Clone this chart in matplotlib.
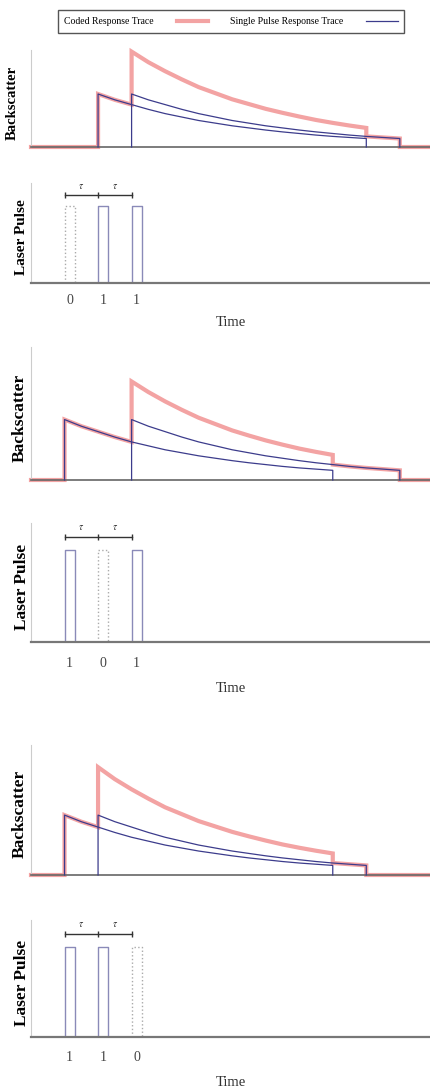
import numpy as np
import matplotlib
matplotlib.use("Agg")
import matplotlib.pyplot as plt
from matplotlib.lines import Line2D

plt.rcParams['font.family'] = ['Liberation Serif', 'DejaVu Serif']
plt.rcParams['mathtext.fontset'] = 'stix'

W, H = 431, 1091

# pulse codes for the three cases, pulses at t = 0, tau, 2 tau
pulse_times = [0, 1, 2]
codes = [[0, 1, 1], [1, 0, 1], [1, 1, 0]]
code_labels = [["0", "1", "1"], ["1", "0", "1"], ["1", "1", "0"]]

# single pulse response (height 1 at onset), every half tau
resp_offset = np.arange(0, 8.5, 0.5)
resp_value = [1.00, 0.89, 0.80, 0.71, 0.63, 0.565, 0.50, 0.45, 0.40,
              0.36, 0.32, 0.285, 0.255, 0.225, 0.20, 0.18, 0.16]
resp_len = resp_offset[-1]
pulse_w = 0.3

red = '#f08c8c'
blue = '#3c3c8c'
pulse_col = '#8a8ab8'

fig = plt.figure(figsize=(W / 100, H / 100), dpi=100)


def px_axes(top, bottom, left=31, right=430):
    return fig.add_axes([left / W, 1 - bottom / H, (right - left) / W, (bottom - top) / H])


def resp_at(t, t0, side):
    d = t - t0
    if side == 'left':
        inside = 0 < d <= resp_len
    else:
        inside = 0 <= d < resp_len
    return np.interp(d, resp_offset, resp_value) if inside else 0.0


def style(ax, ymax, xmin=-1.0, xmax=10.9):
    ax.set_xlim(xmin, xmax)
    ax.set_ylim(0, ymax)
    for s in ['top', 'right']:
        ax.spines[s].set_visible(False)
    ax.spines['left'].set_color('#cccccc')
    ax.spines['left'].set_linewidth(0.8)
    ax.spines['bottom'].set_color('#666666')
    ax.spines['bottom'].set_linewidth(1.2)
    ax.set_yticks([])


# pixel layout: (backscatter top, bottom, ymax, label size), (pulse top, bottom, label size), tick y, time y
layout = [
    ((50, 147, 1.83, 10.5), (183, 283, 11), 300, 323),
    ((347, 480, 2.2, 12.5), (523, 642, 12.5), 663, 688),
    ((745, 875, 2.17, 12.5), (920, 1037, 12.5), 1057, 1083),
]

for k in range(3):
    (bt, bb, bmax, bfs), (pt, pb, pfs), tick_y, time_y = layout[k]
    on = [t for t, c in zip(pulse_times, codes[k]) if c == 1]

    # --- backscatter panel ---
    ax = px_axes(bt, bb)
    grid = sorted(set(np.concatenate([t0 + resp_offset for t0 in on])))
    xs, ys = [-1.0], [0.0]
    for g in grid:
        xs += [g, g]
        ys += [sum(resp_at(g, t0, 'left') for t0 in on),
               sum(resp_at(g, t0, 'right') for t0 in on)]
    xs.append(10.9)
    ys.append(0.0)
    ax.plot(xs, ys, color=red, lw=3, alpha=0.8, solid_joinstyle='miter', clip_on=False, zorder=2)
    for t0 in on:
        sx = [t0] + list(t0 + resp_offset) + [t0 + resp_len]
        sy = [0.0] + resp_value + [0.0]
        ax.plot(sx, sy, color=blue, lw=0.9, clip_on=False, zorder=3)
    style(ax, bmax)
    ax.set_xticks([])
    fig.text((12 if k == 0 else 20) / W, 1 - ((bt + bb) / 2 + 4) / H, 'Backscatter',
             rotation=90, ha='center', va='center', fontsize=bfs, fontweight='bold')

    # --- laser pulse panel ---
    ax = px_axes(pt, pb)
    for t, c in zip(pulse_times, codes[k]):
        if c == 1:
            ax.plot([t, t, t + pulse_w, t + pulse_w], [0, 1, 1, 0], color=pulse_col, lw=1)
        else:
            ax.plot([t, t, t + pulse_w, t + pulse_w], [0, 1, 1, 0], color='#aaaaaa', lw=1, ls=':')
    ax.plot(pulse_times, [1.15] * 3, color='#333333', lw=1, marker='|', ms=5, mew=1)
    for m in [0.5, 1.5]:
        ax.text(m, 1.2, r'$\tau$', ha='center', va='bottom', fontsize=7, color='#333333')
    style(ax, 1.3)
    ax.spines['bottom'].set_linewidth(1.6)
    ax.spines['bottom'].set_color('#777777')
    ax.set_xticks([t + pulse_w / 2 for t in pulse_times])
    ax.set_xticklabels(code_labels[k], fontsize=10, color='#444444')
    ax.tick_params(axis='x', length=0, pad=(tick_y - pb) * 0.72 - 4)
    fig.text(22 / W, 1 - ((pt + pb) / 2 + 4) / H, 'Laser Pulse',
             rotation=90, ha='center', va='center', fontsize=pfs, fontweight='bold')
    fig.text(231 / W, 1 - time_y / H, 'Time', ha='center', va='center', fontsize=10.5, color='#333333')

handles = [Line2D([], [], color=red, lw=3, alpha=0.8), Line2D([], [], color=blue, lw=0.9)]
fig.legend(handles, ['Coded Response Trace', 'Single Pulse Response Trace'],
           loc='center', bbox_to_anchor=(231 / W, 1 - 21.5 / H), ncol=2, markerfirst=False,
           fancybox=False, edgecolor='#555555', fontsize=7, handlelength=3.2,
           handletextpad=2.4, columnspacing=2.2, borderpad=0.7, framealpha=1)

fig.savefig('out.png', dpi=100)
